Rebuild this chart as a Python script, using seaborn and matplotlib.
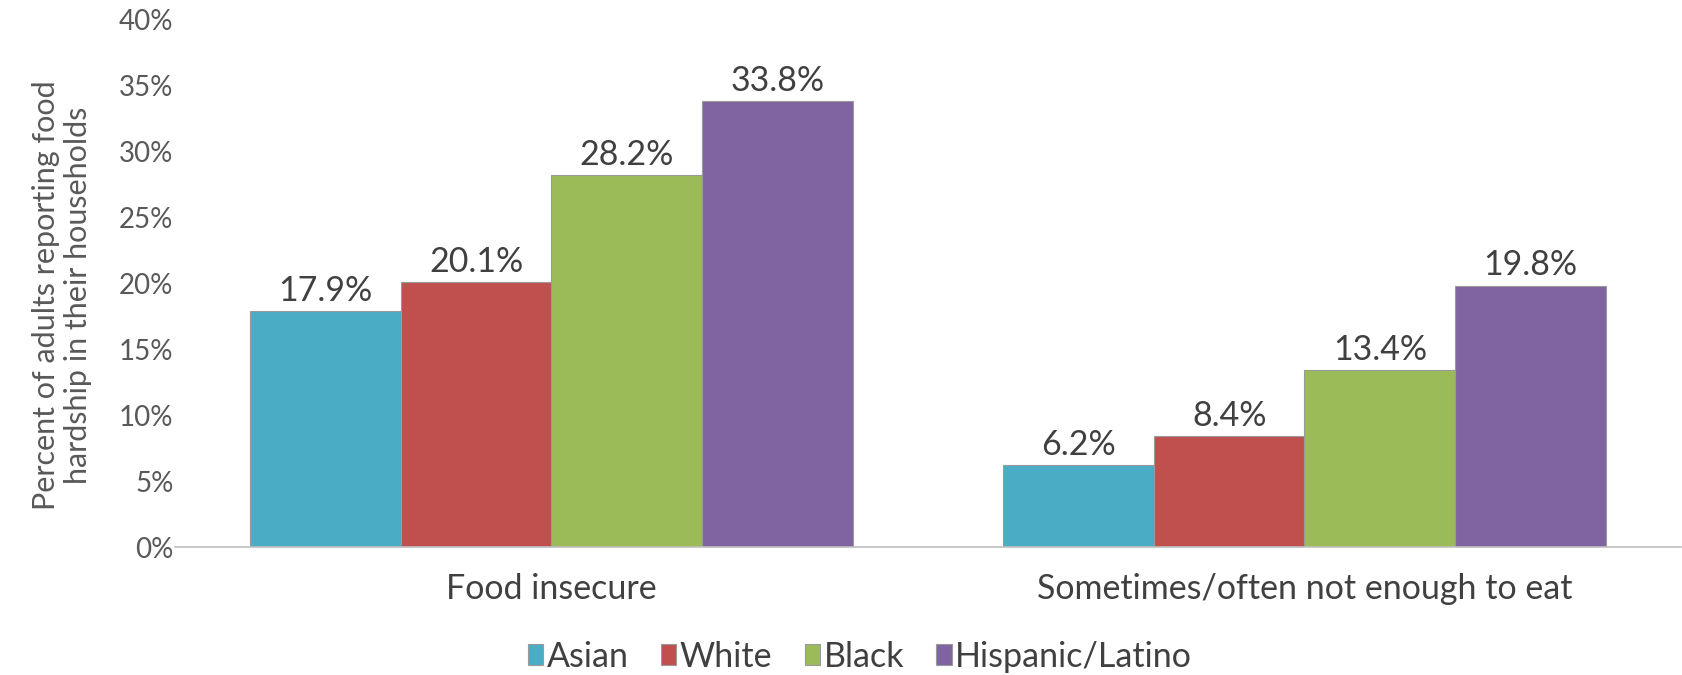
import matplotlib
matplotlib.use("Agg")
import matplotlib.pyplot as plt
import seaborn as sns
import pandas as pd

# chart data
measures = ["Food insecure", "Sometimes/often not enough to eat"]
groups = ["Asian", "White", "Black", "Hispanic/Latino"]
asian = [17.9, 6.2]
white = [20.1, 8.4]
black = [28.2, 13.4]
hispanic = [33.8, 19.8]
y_ticks = [0, 5, 10, 15, 20, 25, 30, 35, 40]

colors = ["#4BACC6", "#C0504D", "#9BBB59", "#8064A2"]
text_color = "#595959"

rows = []
for g, vals in zip(groups, [asian, white, black, hispanic]):
    for m, v in zip(measures, vals):
        rows.append({"measure": m, "group": g, "value": v})
df = pd.DataFrame(rows)

sns.set_style("white")
plt.rcParams["font.family"] = ["Lato", "DejaVu Sans"]

fig = plt.figure(figsize=(16.83, 6.75), dpi=100)
ax = fig.add_axes([175 / 1683, 128 / 675, 1506 / 1683, 528 / 675])

sns.barplot(data=df, x="measure", y="value", hue="group", order=measures,
            hue_order=groups, palette=colors, width=0.8, ax=ax,
            edgecolor="#9a9a9a", linewidth=0.8, saturation=1, errorbar=None)

for cont in ax.containers:
    ax.bar_label(cont, fmt="%.1f%%", padding=3, fontsize=24.5, color="#404040")

ax.set_ylim(0, 40)
ax.set_xlim(-0.5, 1.5)
ax.set_yticks(y_ticks)
ax.set_yticklabels([f"{t}%" for t in y_ticks])
ax.tick_params(axis="y", length=0, pad=1, labelsize=20, labelcolor=text_color)
ax.tick_params(axis="x", length=0, pad=19, labelsize=24.5, labelcolor="#404040")
ax.set_xlabel("")
ax.set_ylabel("Percent of adults reporting food\nhardship in their households",
              fontsize=22, color=text_color, linespacing=1.2)
ax.yaxis.set_label_coords(-0.055, 0.477)

for s in ["top", "right", "left"]:
    ax.spines[s].set_visible(False)
ax.spines["bottom"].set_color("#bfbfbf")
ax.spines["bottom"].set_linewidth(1.2)

handles, labels = ax.get_legend_handles_labels()
ax.legend_.remove()
fig.legend(handles, labels, loc="center", bbox_to_anchor=(0.511, 0.027),
           ncol=4, frameon=False, fontsize=24.5, handlelength=0.45, handleheight=0.55,
           handletextpad=0.1, columnspacing=0.95, labelcolor="#404040")

fig.savefig("out.png", dpi=100)
